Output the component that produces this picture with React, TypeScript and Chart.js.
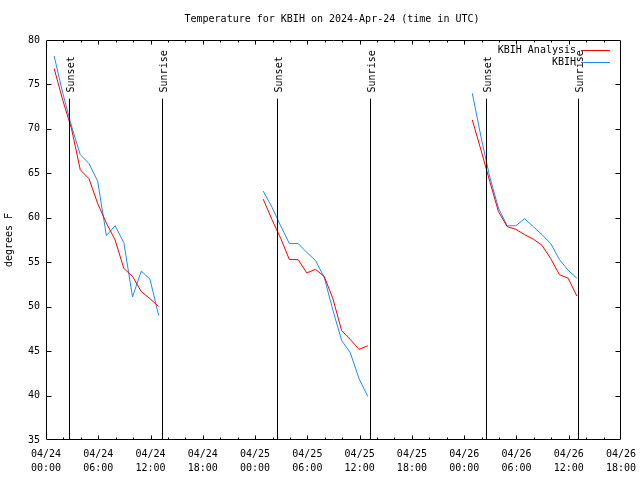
import React, { useEffect, useRef } from 'react';
import { Chart, registerables } from 'chart.js';

Chart.register(...registerables);

const TITLE = 'Temperature for KBIH on 2024-Apr-24 (time in UTC)';
const Y_LABEL = 'degrees F';
const DAYS = ['04/24', '04/25', '04/26'];
const SEGMENT_START_HOURS = [0, 24, 48];
const OBS_MINUTE = 56;

// KBIH Analysis (red), hourly, per segment
const analysisSeg1 = [76.8, 73.2, 70.0, 65.4, 64.4, 61.6, 59.4, 57.5, 54.3, 53.4, 51.7, 50.9, 50.0];
const analysisSeg2 = [62.1, 59.8, 57.7, 55.3, 55.3, 53.8, 54.2, 53.4, 50.9, 47.3, 46.3, 45.2, 45.6];
const analysisSeg3 = [71.0, 67.6, 64.1, 60.7, 59.0, 58.7, 58.1, 57.6, 56.9, 55.4, 53.6, 53.2, 51.2];

// KBIH observations (blue), hourly, per segment
const obsSeg1 = [78.2, 74.0, 70.3, 67.1, 66.1, 64.1, 58.0, 59.1, 57.2, 51.1, 54.0, 53.1, 49.0];
const obsSeg2 = [63.0, 61.2, 59.1, 57.1, 57.1, 56.1, 55.2, 53.3, 49.6, 46.2, 44.8, 41.9, 39.9];
const obsSeg3 = [74.0, 69.1, 64.6, 61.1, 59.1, 59.1, 59.9, 59.0, 58.1, 57.1, 55.3, 54.1, 53.2];

// hours since 04/24 00:00 UTC
const sunsetHours = [2.6, 26.55, 50.52];
const sunriseHours = [13.28, 37.2, 61.1];

const X_MIN = 0;
const X_MAX = 66;
const Y_MIN = 35;
const Y_MAX = 80;

const FONT_FAMILY = '"DejaVu Sans Mono", monospace';
const FONT = '10px ' + FONT_FAMILY;

function buildPoints(segs: number[][]) {
  const pts: { x: number; y: number | null }[] = [];
  segs.forEach((seg, si) => {
    if (si > 0) pts.push({ x: SEGMENT_START_HOURS[si] - 1, y: null });
    seg.forEach((v, i) => {
      pts.push({ x: SEGMENT_START_HOURS[si] + i + OBS_MINUTE / 60, y: v });
    });
  });
  return pts;
}

export default function App() {
  const ref = useRef<HTMLCanvasElement>(null);

  useEffect(() => {
    const canvas = ref.current;
    if (!canvas) return;

    const gnuplotPlugin = {
      id: 'gnuplotDecor',
      beforeDraw(chart: any) {
        const ctx = chart.ctx;
        ctx.save();
        ctx.fillStyle = '#ffffff';
        ctx.fillRect(0, 0, chart.width, chart.height);
        ctx.restore();
      },
      afterDatasetsDraw(chart: any) {
        const ctx = chart.ctx;
        const xs = chart.scales.x;
        const ys = chart.scales.y;
        ctx.save();
        ctx.strokeStyle = '#000000';
        ctx.fillStyle = '#000000';
        ctx.lineWidth = 1;
        ctx.font = FONT;
        const drawSun = (h: number, label: string) => {
          const px = Math.round(xs.getPixelForValue(h)) + 0.5;
          const top = ys.getPixelForValue(73.4);
          const bottom = ys.getPixelForValue(Y_MIN);
          ctx.beginPath();
          ctx.moveTo(px, top);
          ctx.lineTo(px, bottom);
          ctx.stroke();
          ctx.save();
          ctx.translate(px, ys.getPixelForValue(74.1));
          ctx.rotate(-Math.PI / 2);
          ctx.textAlign = 'left';
          ctx.textBaseline = 'alphabetic';
          ctx.fillText(label, 0, 4.5);
          ctx.restore();
        };
        sunsetHours.forEach((h) => drawSun(h, 'Sunset'));
        sunriseHours.forEach((h) => drawSun(h, 'Sunrise'));
        ctx.restore();
      },
      afterDraw(chart: any) {
        const ctx = chart.ctx;
        const area = chart.chartArea;
        const xs = chart.scales.x;
        const ys = chart.scales.y;
        const L = Math.round(area.left) + 0.5;
        const R = Math.round(area.right) - 0.5;
        const T = Math.round(area.top) + 0.5;
        const B = Math.round(area.bottom) - 0.5;
        ctx.save();
        ctx.strokeStyle = '#000000';
        ctx.lineWidth = 1;
        ctx.beginPath();
        ctx.rect(L, T, R - L, B - T);
        ctx.stroke();

        // x ticks every 2 h (major every 6 h), bottom and top, pointing inward
        ctx.beginPath();
        for (let h = X_MIN + 2; h < X_MAX; h += 2) {
          const px = Math.round(xs.getPixelForValue(h)) + 0.5;
          const len = h % 6 === 0 ? 4 : 2;
          ctx.moveTo(px, B);
          ctx.lineTo(px, B - len);
          ctx.moveTo(px, T);
          ctx.lineTo(px, T + len);
        }
        // y ticks every 5, left and right
        for (let v = Y_MIN + 5; v < Y_MAX; v += 5) {
          const py = Math.round(ys.getPixelForValue(v)) + 0.5;
          ctx.moveTo(L, py);
          ctx.lineTo(L + 5, py);
          ctx.moveTo(R, py);
          ctx.lineTo(R - 5, py);
        }
        ctx.stroke();

        // legend (top right, inside frame)
        ctx.font = FONT;
        ctx.fillStyle = '#000000';
        ctx.textAlign = 'right';
        ctx.textBaseline = 'middle';
        chart.data.datasets.forEach((ds: any, i: number) => {
          const rowY = 50.5 + i * 12;
          ctx.fillText(ds.label, 576, rowY);
          ctx.strokeStyle = ds.borderColor;
          ctx.beginPath();
          ctx.moveTo(581, Math.round(rowY) - 0.5);
          ctx.lineTo(610, Math.round(rowY) - 0.5);
          ctx.stroke();
        });

        // title
        ctx.fillStyle = '#000000';
        ctx.textAlign = 'center';
        ctx.textBaseline = 'middle';
        ctx.fillText(TITLE, 332, 19);
        ctx.restore();
      },
    };

    const chart = new Chart(canvas, {
      type: 'line',
      data: {
        datasets: [
          {
            label: 'KBIH Analysis',
            data: buildPoints([analysisSeg1, analysisSeg2, analysisSeg3]) as any,
            borderColor: '#ff0000',
            backgroundColor: '#ff0000',
            borderWidth: 1,
            pointRadius: 0,
            tension: 0,
            spanGaps: false,
            fill: false,
          },
          {
            label: 'KBIH',
            data: buildPoints([obsSeg1, obsSeg2, obsSeg3]) as any,
            borderColor: '#1e8cff',
            backgroundColor: '#1e8cff',
            borderWidth: 1,
            pointRadius: 0,
            tension: 0,
            spanGaps: false,
            fill: false,
          },
        ],
      },
      options: {
        animation: false,
        responsive: false,
        devicePixelRatio: 1,
        layout: { padding: { top: 40, right: 19, left: 0, bottom: 0 } },
        plugins: {
          legend: { display: false },
          title: { display: false },
          tooltip: { enabled: false },
        },
        scales: {
          x: {
            type: 'linear',
            min: X_MIN,
            max: X_MAX,
            grid: { display: false, drawTicks: false },
            border: { display: false },
            ticks: {
              stepSize: 6,
              autoSkip: false,
              maxRotation: 0,
              minRotation: 0,
              padding: 7,
              color: '#000000',
              font: { family: FONT_FAMILY, size: 10, lineHeight: 1.4 },
              callback: (value: any) => {
                const h = Number(value);
                const day = DAYS[Math.min(DAYS.length - 1, Math.floor(h / 24))];
                const hh = String(h % 24).padStart(2, '0');
                return [day, hh + ':00'];
              },
            },
            afterFit: (s: any) => {
              s.height = 40;
              s.paddingLeft = 0;
              s.paddingRight = 0;
            },
          },
          y: {
            type: 'linear',
            min: Y_MIN,
            max: Y_MAX,
            grid: { display: false, drawTicks: false },
            border: { display: false },
            ticks: {
              stepSize: 5,
              padding: 6,
              color: '#000000',
              font: { family: FONT_FAMILY, size: 10 },
            },
            title: {
              display: true,
              text: Y_LABEL,
              color: '#000000',
              font: { family: FONT_FAMILY, size: 10 },
              padding: { top: 3, bottom: 0 },
            },
            afterFit: (s: any) => {
              s.width = 46;
              s.paddingTop = 0;
              s.paddingBottom = 0;
            },
          },
        },
      },
      plugins: [gnuplotPlugin],
    } as any);

    return () => {
      chart.destroy();
    };
  }, []);

  return (
    <div style={{ position: 'fixed', left: 0, top: 0, width: 640, height: 480, background: '#ffffff' }}>
      <canvas ref={ref} width={640} height={480} style={{ display: 'block', width: 640, height: 480 }} />
    </div>
  );
}
